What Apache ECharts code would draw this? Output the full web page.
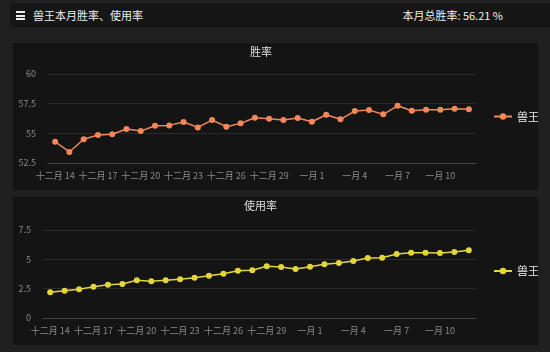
<!DOCTYPE html>
<html>
<head>
<meta charset="utf-8">
<script src="https://cdn.jsdelivr.net/npm/echarts@6/dist/echarts.min.js"></script>
<style>
  html, body { margin: 0; padding: 0; }
  body {
    width: 550px; height: 352px; background: #202020; position: relative; overflow: hidden;
    font-family: "Noto Sans CJK SC", "Noto Sans", sans-serif;
  }
  .header {
    position: absolute; left: 10px; top: 3px; width: 540px; height: 24px;
    background: #161616; color: #eee; font-size: 11px; line-height: 24px;
  }
  .menu { position: absolute; left: 6px; top: 8px; width: 9px; }
  .menu i { display: block; height: 2px; background: #eee; margin-bottom: 1.5px; }
  .title { position: absolute; left: 23px; top: 0; }
  .total { position: absolute; right: 47px; top: 0; }
  .panel { position: absolute; left: 13px; width: 525px; background: #141414; }
</style>
</head>
<body>
<div class="header">
  <div class="menu"><i></i><i></i><i></i></div>
  <div class="title">兽王本月胜率、使用率</div>
  <div class="total">本月总胜率: 56.21 %</div>
</div>
<div id="win" class="panel" style="top: 43px; height: 147px"></div>
<div id="use" class="panel" style="top: 197px; height: 148px"></div>

<script>
// 日期
const days = [
  "十二月 14", "十二月 15", "十二月 16", "十二月 17", "十二月 18", "十二月 19",
  "十二月 20", "十二月 21", "十二月 22", "十二月 23", "十二月 24", "十二月 25",
  "十二月 26", "十二月 27", "十二月 28", "十二月 29", "十二月 30", "十二月 31",
  "一月 1", "一月 2", "一月 3", "一月 4", "一月 5", "一月 6",
  "一月 7", "一月 8", "一月 9", "一月 10", "一月 11", "一月 12"
];
// 胜率
const winRate = [
  54.29, 53.43, 54.5, 54.86, 54.92, 55.36, 55.19, 55.64, 55.67, 55.95,
  55.5, 56.12, 55.56, 55.84, 56.31, 56.23, 56.12, 56.29, 55.98, 56.57,
  56.18, 56.88, 56.96, 56.6, 57.32, 56.9, 56.99, 56.99, 57.07, 57.02
];
// 使用率
const useRate = [
  2.19, 2.33, 2.45, 2.67, 2.84, 2.9, 3.21, 3.13, 3.21, 3.3,
  3.44, 3.61, 3.78, 4.03, 4.07, 4.41, 4.35, 4.18, 4.37, 4.58,
  4.69, 4.86, 5.12, 5.14, 5.46, 5.57, 5.57, 5.54, 5.63, 5.77
];
const winTicks = [52.5, 60, 2.5];
const useTicks = [0, 7.5, 2.5];

function createChart(id, title, data, ticks, color, gridLeft, titleLeft) {
  var myChart = echarts.init(document.getElementById(id));
  var option = {
    backgroundColor: "#141414",
    textStyle: { fontFamily: "Noto Sans CJK SC" },
    title: {
      text: title, left: titleLeft, top: 3, padding: 0,
      textStyle: { color: "#ddd", fontSize: 11, fontWeight: "normal" },
    },
    legend: {
      data: ["兽王"], orient: "vertical", left: 475, top: "middle",
      itemWidth: 18, itemHeight: 8, itemGap: 4,
      textStyle: { color: "#eee", fontSize: 11 },
    },
    grid: { left: gridLeft, right: 62, top: id === "win" ? 31 : 33, bottom: 27 },
    xAxis: {
      type: "category",
      data: days,
      axisTick: { show: false },
      axisLine: { lineStyle: { color: "#444" } },
      axisLabel: { color: "#8a8a8a", fontSize: 9, interval: 2, margin: 8 },
    },
    yAxis: {
      type: "value",
      min: ticks[0], max: ticks[1], interval: ticks[2],
      axisLine: { show: false },
      axisTick: { show: false },
      axisLabel: { color: "#8a8a8a", fontSize: 9, margin: 12 },
      splitLine: { lineStyle: { color: "#2b2b2b" } },
    },
    series: [
      {
        name: "兽王",
        type: "line",
        data: data,
        symbol: "circle",
        symbolSize: 6,
        lineStyle: { width: 1.5, color: color },
        itemStyle: { color: color },
      },
    ],
  };
  myChart.setOption(option);
}

createChart("win", "胜率", winRate, winTicks, "#f5875b", 35, 237);
createChart("use", "使用率", useRate, useTicks, "#e3d63c", 30, 231);
</script>
</body>
</html>
